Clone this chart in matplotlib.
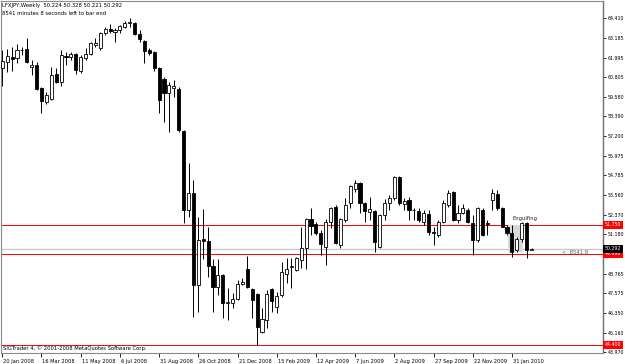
import matplotlib
matplotlib.use('Agg')
import matplotlib.pyplot as plt
import matplotlib.transforms as mtransforms
import numpy as np

# LFXJPY weekly candles
opens = [61.36, 61.73, 62.03, 61.97, 62.46, 62.52, 61.42, 61.54, 60.13, 59.28,
         59.46, 60.99, 60.50, 62.09, 62.03, 62.22, 61.18, 61.97, 62.22, 62.77,
         62.58, 63.50, 63.75, 63.56, 63.69, 63.87, 64.11, 64.11, 63.44, 63.01,
         62.46, 62.34, 61.36, 60.69, 59.83, 60.13, 60.07, 57.50, 52.66, 53.71,
         48.07, 50.89, 50.77, 49.24, 47.95, 48.69, 46.97, 46.97, 47.22, 48.13,
         49.05, 47.83, 47.52, 45.20, 45.93, 47.83, 46.73, 47.46, 48.75, 49.17,
         48.99, 49.60, 50.34, 52.11, 51.81, 51.26, 50.40, 51.93, 52.85, 50.52,
         52.05, 53.09, 53.95, 54.32, 53.09, 52.54, 52.60, 50.40, 52.36, 53.09,
         53.40, 54.69, 53.03, 53.28, 52.69, 52.60, 51.93, 52.42, 51.29, 51.13,
         51.93, 52.97, 53.77, 52.05, 52.48, 52.66, 51.87, 50.83, 52.66, 51.84,
         53.28, 53.65, 52.79, 51.62, 51.26, 50.22, 50.89, 51.87, 50.224]
highs = [62.46, 62.52, 62.64, 62.83, 62.64, 63.20, 61.85, 61.73, 60.20, 59.89,
         61.42, 61.36, 62.46, 62.34, 62.34, 62.28, 62.15, 62.58, 62.95, 63.20,
         63.56, 63.87, 64.05, 63.81, 63.99, 64.24, 64.42, 64.18, 63.69, 63.07,
         62.58, 62.40, 61.40, 60.81, 60.50, 60.62, 60.20, 57.56, 55.54, 54.50,
         52.24, 52.72, 51.62, 49.67, 49.67, 48.75, 47.89, 47.58, 48.38, 48.50,
         49.85, 47.89, 47.58, 46.66, 47.77, 47.89, 47.64, 49.48, 49.73, 49.73,
         49.79, 51.62, 52.15, 52.79, 51.93, 51.44, 52.11, 52.85, 52.97, 52.17,
         53.40, 54.20, 54.50, 54.38, 53.15, 53.46, 52.66, 52.42, 53.34, 53.58,
         54.75, 54.75, 53.40, 53.46, 52.79, 52.79, 52.66, 52.66, 51.62, 52.05,
         53.28, 53.89, 53.83, 52.97, 53.03, 52.79, 52.36, 52.85, 52.79, 52.05,
         53.95, 53.89, 52.85, 51.75, 51.75, 51.01, 51.90, 51.93, 50.328]
lows = [60.26, 61.12, 61.18, 61.66, 62.15, 61.66, 60.93, 60.01, 58.60, 59.15,
        59.40, 60.44, 60.26, 61.54, 61.85, 60.99, 61.05, 61.85, 62.15, 62.64,
        62.46, 63.38, 63.50, 62.95, 63.50, 63.81, 63.87, 63.38, 62.95, 61.66,
        62.15, 61.18, 58.60, 58.05, 57.44, 59.58, 57.44, 51.87, 52.24, 46.11,
        46.42, 49.67, 48.56, 46.42, 47.46, 46.05, 45.93, 46.66, 47.15, 48.07,
        47.89, 46.05, 44.40, 45.13, 45.44, 46.42, 46.36, 47.34, 48.20, 47.89,
        48.93, 49.11, 49.05, 51.13, 51.13, 49.91, 49.30, 51.56, 50.58, 50.34,
        51.93, 52.79, 53.77, 52.48, 51.93, 52.05, 50.11, 50.34, 52.05, 52.66,
        53.28, 52.97, 52.66, 52.05, 52.05, 51.93, 51.75, 51.13, 50.52, 51.01,
        51.87, 52.85, 52.00, 51.87, 52.42, 51.87, 49.91, 50.71, 51.07, 51.13,
        52.66, 52.66, 51.60, 51.13, 49.79, 50.11, 50.71, 49.73, 50.221]
closes = [61.79, 62.09, 61.91, 62.46, 62.44, 61.73, 61.54, 60.07, 59.34, 59.71,
          60.93, 60.50, 62.15, 62.03, 62.22, 61.24, 62.03, 62.22, 62.89, 62.89,
          63.50, 63.75, 63.62, 63.69, 63.93, 64.11, 64.18, 63.44, 63.13, 62.40,
          62.28, 61.36, 59.40, 59.83, 60.32, 60.26, 57.56, 52.66, 53.71, 48.07,
          50.83, 50.77, 49.24, 47.95, 48.69, 46.97, 47.03, 47.22, 48.13, 48.26,
          47.95, 47.15, 45.50, 45.99, 47.52, 47.09, 47.40, 48.87, 49.05, 49.24,
          49.73, 50.34, 52.11, 51.69, 51.26, 50.58, 51.93, 52.79, 50.65, 52.11,
          52.97, 54.13, 54.32, 53.09, 52.60, 52.72, 50.71, 52.36, 53.09, 53.40,
          54.69, 53.09, 53.21, 52.66, 52.64, 52.05, 52.48, 51.32, 51.23, 51.93,
          53.09, 53.71, 52.05, 52.48, 52.79, 51.93, 50.83, 52.79, 51.13, 51.78,
          53.71, 52.79, 51.62, 51.26, 50.11, 50.89, 51.87, 50.22, 50.292]

date_labels = ['20 Jan 2008', '16 Mar 2008', '11 May 2008', '6 Jul 2008', '31 Aug 2008',
               '26 Oct 2008', '21 Dec 2008', '15 Feb 2009', '12 Apr 2009', '7 Jun 2009',
               '2 Aug 2009', '27 Sep 2009', '22 Nov 2009', '31 Jan 2010']
label_step = 8

price_ticks = [64.410, 63.185, 61.995, 60.805, 59.580, 58.390, 57.200, 55.975, 54.785,
               53.560, 52.370, 51.180, 49.990, 48.765, 47.575, 46.350, 45.160, 43.970]
hidden_tick = 49.990  # covered by the level boxes in the original

red_levels = [51.750, 49.990, 44.400]
bid = 50.292

plt.rcParams['font.family'] = 'DejaVu Sans'
fs = 3.8       # chart texts
fs_date = 3.7
fs_price = 3.4

fig = plt.figure(figsize=(6.25, 3.64), dpi=100)
fig.patch.set_facecolor('white')
ax = fig.add_axes([1 / 625, 11 / 364, 602 / 625, 352 / 364])
ax.set_facecolor('white')

n = len(opens)
idx = np.arange(n)
o = np.array(opens)
h = np.array(highs)
l = np.array(lows)
c = np.array(closes)
up = c >= o

# level lines
for lv in red_levels:
    ax.axhline(lv, color='#ff0000', lw=0.7, zorder=1)
ax.axhline(bid, color='#c8c8c8', lw=1.0, zorder=1)

# engulfing highlight
ax.add_patch(plt.Rectangle((103.2, 50.11), 3.1, 1.64, facecolor='#d9d9d9',
                           edgecolor='none', zorder=1.5))
ax.text(104.2, 52.17, 'Engulfing', fontsize=fs, color='#202020', va='center', ha='left')

# candles
ax.vlines(idx, l, h, color='black', lw=0.7, zorder=2)
w = 0.64
ax.bar(idx[up], c[up] - o[up], bottom=o[up], width=w, facecolor='white',
       edgecolor='black', lw=0.6, zorder=3)
ax.bar(idx[~up], c[~up] - o[~up], bottom=o[~up], width=w, facecolor='black',
       edgecolor='black', lw=0.6, zorder=3)

ax.set_xlim(-0.265, 122.59)
ax.set_ylim(43.91, 65.46)

for s in ['left', 'top', 'bottom']:
    ax.spines[s].set_color('#8a8a8a')
    ax.spines[s].set_linewidth(0.8)
ax.spines['right'].set_color('#6e6e6e')
ax.spines['right'].set_linewidth(1.0)

ax.yaxis.tick_right()
ax.set_yticks(price_ticks)
ax.set_yticklabels(['' if v == hidden_tick else '%.3f' % v for v in price_ticks])
ax.tick_params(axis='y', length=2.5, width=0.6, pad=1, labelsize=fs_price, colors='black')

xt = np.arange(len(date_labels)) * label_step
ax.set_xticks(xt)
ax.set_xticklabels(date_labels, ha='left')
ax.tick_params(axis='x', length=3, width=0.6, pad=1, labelsize=fs_date, colors='black')
for t in ax.get_xticklabels():
    t.set_transform(t.get_transform() + mtransforms.ScaledTranslation(1 / 100, 0, fig.dpi_scale_trans))

# price labels on the axis
tr = mtransforms.blended_transform_factory(ax.transAxes, ax.transData)
for lv in red_levels:
    ax.text(1.003, lv, '%.3f' % lv, transform=tr, fontsize=fs_price, color='white', va='center',
            ha='left', bbox=dict(boxstyle='square,pad=0.3', facecolor='#ff0000',
                                 edgecolor='none'), zorder=5, clip_on=False)
ax.text(1.003, bid, '%.3f' % bid, transform=tr, fontsize=fs_price, color='white', va='center',
        ha='left', bbox=dict(boxstyle='square,pad=0.3', facecolor='black', edgecolor='none'),
        zorder=6, clip_on=False)

# chart texts
ax.text(0.002, 0.988, 'LFXJPY,Weekly  %.3f %.3f %.3f %.3f' % (opens[-1], highs[-1], lows[-1], closes[-1]),
        transform=ax.transAxes, fontsize=fs, va='center', ha='left')
ax.text(0.002, 0.965, '8541 minutes 8 seconds left to bar end', transform=ax.transAxes,
        fontsize=fs, va='center', ha='left')
ax.text(0.004, 0.013, 'SIGTrader 4, \u00a9 2001-2008 MetaQuotes Software Corp.',
        transform=ax.transAxes, fontsize=fs, va='center', ha='left')
ax.text(114.3, bid - 0.24, '<  8541:8', fontsize=fs, color='#606060', va='center', ha='left')

fig.savefig('out.png', dpi=100, facecolor='white')
